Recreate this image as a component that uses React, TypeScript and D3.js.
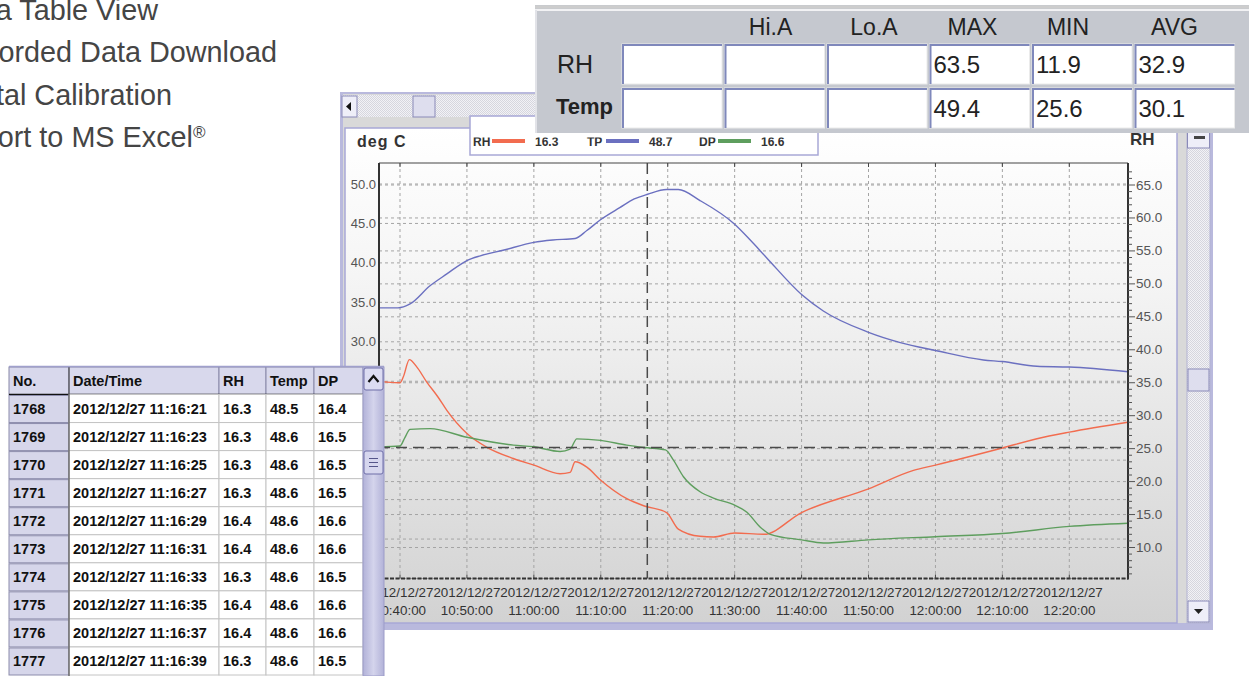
import * as d3 from "d3";
import React from "react";

const W = 1249;
const H = 676;

const day = "2012-12-27";
const parseTime = d3.timeParse("%Y-%m-%d %H:%M:%S");
const at = (s: string) => parseTime(`${day} ${s}`) as Date;

// RH, read against the right axis
const rhTimes = ["10:36:52", "10:38:00", "10:40:00", "10:40:30", "10:41:24", "10:42:30", "10:44:00", "10:45:42", "10:47:00", "10:50:00", "10:53:00", "10:56:56", "11:00:00", "11:03:55", "11:05:25", "11:06:10", "11:07:55", "11:10:00", "11:13:53", "11:16:30", "11:19:50", "11:21:35", "11:24:50", "11:26:50", "11:30:00", "11:34:20", "11:40:00", "11:50:00", "11:56:43", "12:00:00", "12:10:00", "12:15:10", "12:20:00", "12:28:46"];
const rhValues = [35.2, 35.1, 35.0, 35.9, 38.5, 37.4, 35.1, 32.8, 30.8, 27.3, 25.2, 23.5, 22.5, 21.2, 21.4, 23.0, 22.2, 20.2, 17.4, 16.3, 15.3, 12.8, 11.7, 11.6, 12.2, 12.0, 15.3, 18.9, 21.7, 22.5, 25.1, 26.5, 27.5, 29.0];

// TP (temperature), left axis
const tpTimes = ["10:36:52", "10:39:42", "10:41:30", "10:44:29", "10:47:00", "10:50:00", "10:52:00", "10:55:24", "11:00:00", "11:02:50", "11:06:10", "11:07:55", "11:10:00", "11:12:50", "11:15:00", "11:17:00", "11:19:50", "11:21:35", "11:24:50", "11:30:00", "11:32:20", "11:34:50", "11:40:00", "11:43:15", "11:50:00", "11:54:45", "12:00:00", "12:07:10", "12:10:00", "12:15:10", "12:20:00", "12:28:46"];
const tpValues = [34.3, 34.3, 34.8, 37.1, 38.6, 40.3, 40.9, 41.6, 42.6, 42.9, 43.1, 44.1, 45.5, 47.0, 48.1, 48.7, 49.3, 49.3, 47.9, 44.9, 42.9, 40.6, 36.0, 33.9, 31.2, 29.9, 28.9, 27.7, 27.5, 26.9, 26.8, 26.2];

// DP (dew point), left axis
const dpTimes = ["10:36:52", "10:40:00", "10:40:45", "10:41:30", "10:44:29", "10:50:00", "10:56:56", "11:00:00", "11:03:55", "11:05:25", "11:06:25", "11:10:00", "11:13:53", "11:16:30", "11:19:40", "11:20:51", "11:22:21", "11:24:50", "11:26:50", "11:30:00", "11:31:50", "11:33:50", "11:35:20", "11:40:00", "11:43:15", "11:50:00", "12:00:00", "12:10:00", "12:20:00", "12:28:46"];
const dpValues = [16.7, 16.8, 17.9, 18.9, 19.0, 17.9, 16.9, 16.7, 16.1, 16.4, 17.7, 17.5, 16.9, 16.6, 16.3, 15.0, 12.9, 11.0, 10.2, 9.3, 8.4, 6.5, 5.6, 4.9, 4.5, 4.9, 5.3, 5.7, 6.6, 7.0];

const cursorTime = "11:16:57";
const cursorDP = 16.6;

const legendNames = ["RH", "TP", "DP"];
const legendValues = ["16.3", "48.7", "16.6"];
const seriesColors = ["#f26c4f", "#6b70c0", "#5e9e5e"];

// min / max table
const statHeaders = ["", "Hi.A", "Lo.A", "MAX", "MIN", "AVG"];
const statRowNames = ["RH", "Temp"];
const statRH = ["", "", "", "63.5", "11.9", "32.9"];
const statTemp = ["", "", "", "49.4", "25.6", "30.1"];

// data table view
const tableHeaders = ["No.", "Date/Time", "RH", "Temp", "DP"];
const tableNo = ["1768", "1769", "1770", "1771", "1772", "1773", "1774", "1775", "1776", "1777"];
const tableTime = ["2012/12/27 11:16:21", "2012/12/27 11:16:23", "2012/12/27 11:16:25", "2012/12/27 11:16:27", "2012/12/27 11:16:29", "2012/12/27 11:16:31", "2012/12/27 11:16:33", "2012/12/27 11:16:35", "2012/12/27 11:16:37", "2012/12/27 11:16:39"];
const tableRH = ["16.3", "16.3", "16.3", "16.3", "16.4", "16.4", "16.3", "16.4", "16.4", "16.3"];
const tableTemp = ["48.5", "48.6", "48.6", "48.6", "48.6", "48.6", "48.6", "48.6", "48.6", "48.6"];
const tableDP = ["16.4", "16.5", "16.5", "16.5", "16.6", "16.6", "16.5", "16.6", "16.6", "16.5"];

const features = ["Data Table View", "Recorded Data Download", "Digital Calibration", "Export to MS Excel"];

const plot = { left: 379, right: 1128, top: 163, bottom: 578.5 };

const x = d3.scaleTime().domain([at("10:40:00"), at("12:20:00")]).range([400, 1069.3]);
const yL = d3.scaleLinear().domain([0, 50]).range([578.5, 184]);
const yR = d3.scaleLinear().domain([10, 65]).range([547.5, 185]);

const fmt1 = d3.format(".1f");
const fmtTime = d3.timeFormat("%H:%M:%S");
const fmtDate = d3.timeFormat("%Y/%m/%d");

type Pt = [Date, number];
const zip = (ts: string[], vs: number[]): Pt[] => ts.map((s, i) => [at(s), vs[i]]);

const lineL = d3.line<Pt>().x((d) => x(d[0])).y((d) => yL(d[1])).curve(d3.curveMonotoneX);
const lineR = d3.line<Pt>().x((d) => x(d[0])).y((d) => yR(d[1])).curve(d3.curveMonotoneX);

const LAV = "#a8a8d6";
const BTN = "#8a8ab8";

function ChartWindow() {
  const xTicks = x.ticks(d3.timeMinute.every(10)!);
  const leftTicks = yL.ticks(10);
  const rightTicks = yR.ticks(11);
  const rightMinor = d3.range(6, 68).filter((v) => v % 5 !== 0);
  const cx = x(at(cursorTime));
  const cy = yL(cursorDP);
  const legendX = [473, 587, 699];

  return (
    <g>
      <rect x={340} y={92} width={873} height={538} fill="#b9b9dd" />
      <rect x={343} y={94} width={867} height={529} fill="#d9d9d9" />

      {/* top scrollbar */}
      <rect x={342} y={95} width={870} height={22} fill="url(#dots)" />
      <rect x={342} y={96} width={15} height={21} fill="#eeeef8" stroke={BTN} />
      <path d="M346,106.5 L351,102 L351,111 Z" fill="#111" />
      <rect x={413} y={96} width={22} height={21} fill="#dedeee" stroke={BTN} />

      {/* chart panel */}
      <rect x={345} y={128} width={832} height={495} fill="url(#panelGrad)" stroke={LAV} strokeWidth={1.5} />

      <text x={357} y={147} fontSize={16} fontWeight="bold" letterSpacing={1} fill="#333">deg C</text>
      <text x={1130} y={145} fontSize={17} fontWeight="bold" fill="#333">RH</text>

      {/* legend */}
      <rect x={470} y={116} width={348} height={39} fill="#fff" stroke={LAV} strokeWidth={1.5} />
      <g clipPath="url(#legClip)">
        {legendNames.map((n, i) => (
          <g key={n}>
            <text x={legendX[i]} y={146} fontSize={12} fontWeight="bold" fill="#333">{n}</text>
            <rect x={legendX[i] + 19} y={139} width={33} height={4} fill={seriesColors[i]} />
            <text x={legendX[i] + 62} y={146} fontSize={12} fontWeight="bold" fill="#333">{legendValues[i]}</text>
          </g>
        ))}
      </g>

      {/* grid */}
      <g stroke="#a4a4a4" strokeDasharray="3 3" strokeWidth={1}>
        {leftTicks.map((v) => (
          <line key={"gl" + v} x1={plot.left} x2={plot.right} y1={yL(v)} y2={yL(v)} />
        ))}
        {rightTicks.map((v) => (
          <line key={"gr" + v} x1={plot.left} x2={plot.right} y1={yR(v)} y2={yR(v)} />
        ))}
        {xTicks.map((d) => (
          <line key={"gx" + +d} x1={x(d)} x2={x(d)} y1={plot.top} y2={plot.bottom} />
        ))}
      </g>

      {/* series */}
      <g clipPath="url(#plotClip)" fill="none" strokeWidth={1.4}>
        <path d={lineR(zip(rhTimes, rhValues)) ?? ""} stroke={seriesColors[0]} />
        <path d={lineL(zip(tpTimes, tpValues)) ?? ""} stroke={seriesColors[1]} />
        <path d={lineL(zip(dpTimes, dpValues)) ?? ""} stroke={seriesColors[2]} />
      </g>

      {/* cursor */}
      <g stroke="#4a4a4a" strokeWidth={1.5} strokeDasharray="11 6">
        <line x1={cx} x2={cx} y1={plot.top} y2={plot.bottom} />
        <line x1={plot.left} x2={plot.right} y1={cy} y2={cy} />
      </g>

      {/* frame */}
      <line x1={plot.left} x2={plot.right} y1={plot.top} y2={plot.top} stroke="#444" strokeWidth={1} />
      <line x1={plot.left} x2={plot.right} y1={plot.bottom} y2={plot.bottom} stroke="#333" strokeWidth={2} strokeDasharray="4 1.5" />
      <line x1={plot.left} x2={plot.left} y1={plot.top} y2={plot.bottom} stroke="#333" strokeWidth={2} />
      <line x1={plot.right} x2={plot.right} y1={plot.top} y2={plot.bottom + 1} stroke="#333" strokeWidth={2} />
      {xTicks.map((d) => (
        <g key={"tk" + +d} stroke="#444">
          <line x1={x(d)} x2={x(d)} y1={plot.top} y2={plot.top + 4} />
          <line x1={x(d)} x2={x(d)} y1={plot.bottom} y2={plot.bottom - 4} />
        </g>
      ))}

      {/* left axis */}
      {leftTicks.map((v) => (
        <text key={"lt" + v} x={376} y={yL(v) + 4.5} fontSize={13} textAnchor="end" fill="#555">{fmt1(v)}</text>
      ))}

      {/* right axis */}
      {rightMinor.map((v) => (
        <line key={"rm" + v} x1={plot.right} x2={plot.right + 4} y1={yR(v)} y2={yR(v)} stroke="#555" />
      ))}
      {rightTicks.map((v) => (
        <g key={"rt" + v}>
          <line x1={plot.right} x2={plot.right + 7} y1={yR(v)} y2={yR(v)} stroke="#555" />
          <text x={1136} y={yR(v) + 4.5} fontSize={13.5} fill="#555">{fmt1(v)}</text>
        </g>
      ))}

      {/* x axis labels */}
      {xTicks.map((d) => (
        <g key={"xl" + +d} fontSize={13.4} fill="#333" textAnchor="middle">
          <text x={x(d)} y={597}>{fmtDate(d)}</text>
          <text x={x(d)} y={615}>{fmtTime(d)}</text>
        </g>
      ))}

      {/* right scrollbar */}
      <rect x={1187} y={128} width={23} height={495} fill="url(#dots)" stroke="#b4b4d4" />
      <rect x={1187.5} y={126} width={22} height={22} fill="#eeeef8" stroke={BTN} />
      <rect x={1194} y={136} width={11} height={3} fill="#444" />
      <rect x={1188} y={369} width={21} height={22} fill="#dedeee" stroke={BTN} />
      <rect x={1188} y={601} width={21} height={21} fill="#eeeef8" stroke={BTN} />
      <path d="M1194,609 L1203,609 L1198.5,614 Z" fill="#222" />
    </g>
  );
}

function StatsPanel() {
  const cellLeft = (i: number) => 622 + i * 102.5;
  const cellW = 100;
  const rowTop = [44, 88];
  const headerNudge = [0, -4, -3, -7, -14, -10];
  const rows = [statRH, statTemp];
  return (
    <g>
      <rect x={535} y={5} width={714} height={128} fill="#c5c8cf" />
      <line x1={535} x2={1249} y1={7} y2={7} stroke="#cdcdcd" strokeWidth={3} />
      <line x1={535} x2={1249} y1={10} y2={10} stroke="#f2f2f4" strokeWidth={2} />
      <line x1={536} x2={536} y1={10} y2={133} stroke="#e2e3e8" strokeWidth={2} />
      {statHeaders.map((h, i) => (
        <text key={"h" + i} x={cellLeft(i) + cellW / 2 + headerNudge[i]} y={35} fontSize={23} textAnchor="middle" fill="#222">{h}</text>
      ))}
      <text x={557} y={73} fontSize={25} fill="#222">{statRowNames[0]}</text>
      <text x={556} y={114} fontSize={22} fontWeight="bold" fill="#222">{statRowNames[1]}</text>
      {rows.map((row, r) =>
        row.map((v, i) => (
          <g key={`c${r}-${i}`}>
            <rect x={cellLeft(i)} y={rowTop[r]} width={cellW} height={40} fill="#fff" stroke="#ebebeb" />
            <path d={`M${cellLeft(i) + 1},${rowTop[r] + 40} V${rowTop[r] + 1} H${cellLeft(i) + cellW}`} fill="none" stroke="#7f88bb" strokeWidth={2} />
            <text x={cellLeft(i) + 4} y={rowTop[r] + 29} fontSize={24} fill="#222">{v}</text>
          </g>
        ))
      )}
    </g>
  );
}

function DataTable() {
  const edges = [9, 69, 219, 266, 314, 363];
  const top = 367;
  const headH = 27.5;
  const rowH = 28.05;
  const cols = [tableNo, tableTime, tableRH, tableTemp, tableDP];
  const rowsY = tableNo.map((_, i) => top + headH + i * rowH);
  return (
    <g fontWeight="bold" fontSize={14.5} fill="#111">
      <rect x={edges[0]} y={top} width={375} height={H - top} fill="#fff" />
      {/* header */}
      {tableHeaders.map((h, i) => (
        <g key={"th" + i}>
          <rect x={edges[i]} y={top} width={edges[i + 1] - edges[i]} height={headH} fill="#d8d8ec" stroke="#8888a8" strokeWidth={1} />
          <text x={edges[i] + 4} y={top + 19} fill="#111">{h}</text>
        </g>
      ))}
      <line x1={edges[0]} x2={edges[5]} y1={top + headH} y2={top + headH} stroke="#111" strokeWidth={1.5} />
      {/* body */}
      {rowsY.map((ry, r) => (
        <g key={"tr" + r}>
          <rect x={edges[0]} y={ry + 1} width={edges[1] - edges[0]} height={rowH - 1} fill="#d6d6ea" stroke="#8c8cac" strokeWidth={1} />
          {cols.slice(1).map((_, c) => (
            <rect key={c} x={edges[c + 1]} y={ry} width={edges[c + 2] - edges[c + 1]} height={rowH} fill="#fff" stroke="#c4c4c4" strokeWidth={1} />
          ))}
          {cols.map((col, c) => (
            <text key={"t" + c} x={edges[c] + 4} y={ry + 19}>{col[r]}</text>
          ))}
        </g>
      ))}
      <line x1={edges[1]} x2={edges[1]} y1={top} y2={H} stroke="#555" strokeWidth={1.2} />
      {/* scrollbar */}
      <rect x={363} y={top} width={21} height={H - top} fill="url(#sbGrad)" stroke="#9c9cc8" />
      <rect x={364} y={368} width={19} height={22} fill="#dcdcf2" stroke="#6e6ea8" rx={2} />
      <path d="M368.5,382 L373.5,376 L378.5,382" fill="none" stroke="#111" strokeWidth={2.2} />
      <rect x={364} y={451} width={19} height={23} fill="#d6d6ee" stroke="#6e6ea8" rx={2} />
      <g stroke="#55558a" strokeWidth={1}>
        <line x1={369} x2={378} y1={458.5} y2={458.5} />
        <line x1={369} x2={378} y1={462.5} y2={462.5} />
        <line x1={369} x2={378} y1={466.5} y2={466.5} />
      </g>
      <line x1={edges[0]} x2={384} y1={top - 0.5} y2={top - 0.5} stroke="#a0a0cc" strokeWidth={1.5} />
    </g>
  );
}

function FeatureList() {
  // the list is cut by the left edge of the page, as in the screenshot
  const rightEdge = [158, 277, 172, 193];
  return (
    <g fontSize={28.8} fill="#454545">
      {features.map((f, i) => (
        <text key={f} x={rightEdge[i]} y={20 + i * 42.3} textAnchor="end">
          {f}
        </text>
      ))}
      <text x={193} y={138} fontSize={17} fill="#454545">®</text>
    </g>
  );
}

export default function App() {
  return (
    <div style={{ position: "absolute", left: 0, top: 0 }}>
      <svg width={W} height={H} style={{ display: "block", fontFamily: "'Liberation Sans', Arial, sans-serif" }}>
        <defs>
          <linearGradient id="panelGrad" x1="0" y1="0" x2="0" y2="1">
            <stop offset="0%" stopColor="#ffffff" />
            <stop offset="30%" stopColor="#f5f5f5" />
            <stop offset="100%" stopColor="#d2d2d2" />
          </linearGradient>
          <linearGradient id="sbGrad" x1="0" y1="0" x2="1" y2="0">
            <stop offset="0%" stopColor="#b2b2d8" />
            <stop offset="50%" stopColor="#d4d4ec" />
            <stop offset="100%" stopColor="#b2b2d8" />
          </linearGradient>
          <pattern id="dots" width={2} height={2} patternUnits="userSpaceOnUse">
            <rect width={2} height={2} fill="#f2f2f6" />
            <rect width={1} height={1} fill="#d6d6de" />
            <rect x={1} y={1} width={1} height={1} fill="#d6d6de" />
          </pattern>
          <clipPath id="plotClip">
            <rect x={plot.left} y={plot.top} width={plot.right - plot.left} height={plot.bottom - plot.top} />
          </clipPath>
          <clipPath id="legClip">
            <rect x={470} y={137.5} width={348} height={20} />
          </clipPath>
        </defs>
        <rect width={W} height={H} fill="#fff" />
        <FeatureList />
        <ChartWindow />
        <StatsPanel />
        <DataTable />
      </svg>
    </div>
  );
}
